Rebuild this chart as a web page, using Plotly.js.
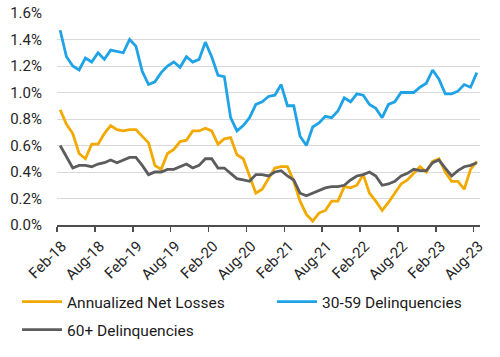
<!DOCTYPE html>
<html>
<head>
<meta charset="utf-8">
<script src="https://cdn.plot.ly/plotly-3.0.1.min.js"></script>
<style>html,body{margin:0;padding:0;background:#fff;}#chart{width:500px;height:357px;}</style>
</head>
<body>
<div id="chart"></div>
<script>
const months = [
  "Feb-18","Mar-18","Apr-18","May-18","Jun-18","Jul-18","Aug-18","Sep-18","Oct-18","Nov-18","Dec-18","Jan-19",
  "Feb-19","Mar-19","Apr-19","May-19","Jun-19","Jul-19","Aug-19","Sep-19","Oct-19","Nov-19","Dec-19","Jan-20",
  "Feb-20","Mar-20","Apr-20","May-20","Jun-20","Jul-20","Aug-20","Sep-20","Oct-20","Nov-20","Dec-20","Jan-21",
  "Feb-21","Mar-21","Apr-21","May-21","Jun-21","Jul-21","Aug-21","Sep-21","Oct-21","Nov-21","Dec-21","Jan-22",
  "Feb-22","Mar-22","Apr-22","May-22","Jun-22","Jul-22","Aug-22","Sep-22","Oct-22","Nov-22","Dec-22","Jan-23",
  "Feb-23","Mar-23","Apr-23","May-23","Jun-23","Jul-23","Aug-23"
];
const tickLabels = ["Feb-18","Aug-18","Feb-19","Aug-19","Feb-20","Aug-20","Feb-21","Aug-21","Feb-22","Aug-22","Feb-23","Aug-23"];

const netLosses = [
  0.87,0.76,0.69,0.54,0.50,0.61,0.61,0.69,0.75,0.72,0.71,0.72,
  0.72,0.67,0.62,0.45,0.42,0.54,0.57,0.63,0.64,0.71,0.71,0.73,
  0.71,0.61,0.65,0.66,0.53,0.50,0.37,0.24,0.27,0.35,0.43,0.44,
  0.44,0.33,0.18,0.08,0.03,0.09,0.11,0.18,0.18,0.29,0.28,0.30,
  0.38,0.24,0.18,0.11,0.17,0.24,0.31,0.34,0.39,0.44,0.40,0.48,
  0.50,0.40,0.33,0.33,0.27,0.42,0.48
];
const delinq3059 = [
  1.47,1.27,1.20,1.17,1.26,1.23,1.30,1.25,1.32,1.31,1.30,1.40,
  1.35,1.16,1.06,1.08,1.15,1.20,1.23,1.19,1.27,1.23,1.25,1.38,
  1.27,1.13,1.12,0.81,0.71,0.75,0.81,0.91,0.93,0.97,0.98,1.06,
  0.90,0.90,0.67,0.60,0.74,0.77,0.82,0.81,0.86,0.96,0.93,0.99,
  0.98,0.91,0.88,0.81,0.91,0.93,1.00,1.00,1.00,1.04,1.07,1.17,
  1.10,0.99,0.99,1.01,1.06,1.04,1.15
];
const delinq60 = [
  0.60,0.52,0.43,0.45,0.45,0.44,0.46,0.47,0.49,0.47,0.49,0.51,
  0.51,0.45,0.38,0.40,0.40,0.42,0.42,0.44,0.46,0.43,0.45,0.50,
  0.50,0.43,0.43,0.39,0.35,0.34,0.33,0.38,0.38,0.37,0.40,0.41,
  0.37,0.34,0.24,0.22,0.24,0.26,0.28,0.29,0.29,0.30,0.34,0.37,
  0.38,0.40,0.37,0.30,0.31,0.33,0.37,0.39,0.42,0.41,0.41,0.47,
  0.49,0.43,0.37,0.41,0.44,0.45,0.47
];

const xIdx = months.map((m, i) => i);
const tickPos = tickLabels.map(l => months.indexOf(l) - 0.5);

function series(name, vals, color, legend) {
  return {
    type: 'scatter', mode: 'lines', name: name, legend: legend,
    x: xIdx, y: vals.map(v => v / 100), text: months,
    hovertemplate: '%{text}: %{y:.2%}<extra>' + name + '</extra>',
    line: {color: color, width: 2.8}
  };
}

const data = [
  series('Annualized Net Losses', netLosses, '#F2A900', 'legend'),
  series('30-59 Delinquencies', delinq3059, '#1FA3E6', 'legend2'),
  series('60+ Delinquencies', delinq60, '#5C5C5E', 'legend3')
];

function leg(xPx, yPx) {
  return {
    orientation: 'h', xref: 'container', yref: 'container',
    x: xPx / 500, y: 1 - yPx / 357, xanchor: 'left', yanchor: 'middle',
    font: {size: 15.5, color: '#1a1a1a'},
    itemwidth: 40, bgcolor: 'rgba(0,0,0,0)', borderwidth: 0
  };
}

const layout = {
  width: 500, height: 357,
  margin: {l: 57, r: 20, t: 13, b: 132},
  paper_bgcolor: '#fff', plot_bgcolor: '#fff',
  font: {family: 'Roboto, Arial, sans-serif', size: 15, color: '#262626'},
  showlegend: true,
  legend: leg(17, 302),
  legend2: leg(272, 302),
  legend3: leg(17, 330),
  xaxis: {
    range: [-0.5, 66.5], showgrid: false, zeroline: false,
    showline: true, linecolor: '#4d4d4d', linewidth: 1.5,
    ticks: 'outside', ticklen: 5, tickwidth: 1.5, tickcolor: '#4d4d4d',
    tickvals: tickPos, ticktext: tickLabels, tickangle: -45,
    ticklabelshift: 5,
    tickfont: {size: 15, color: '#262626'}
  },
  yaxis: {
    range: [0, 0.016], dtick: 0.002, tickformat: '.1%',
    showgrid: true, gridcolor: '#d9d9d9', gridwidth: 1,
    zeroline: false, showline: false, ticks: '',
    ticklabelstandoff: 14,
    tickfont: {size: 15, color: '#262626'}
  }
};

Plotly.newPlot('chart', data, layout, {displayModeBar: false, staticPlot: true});
</script>
</body>
</html>
